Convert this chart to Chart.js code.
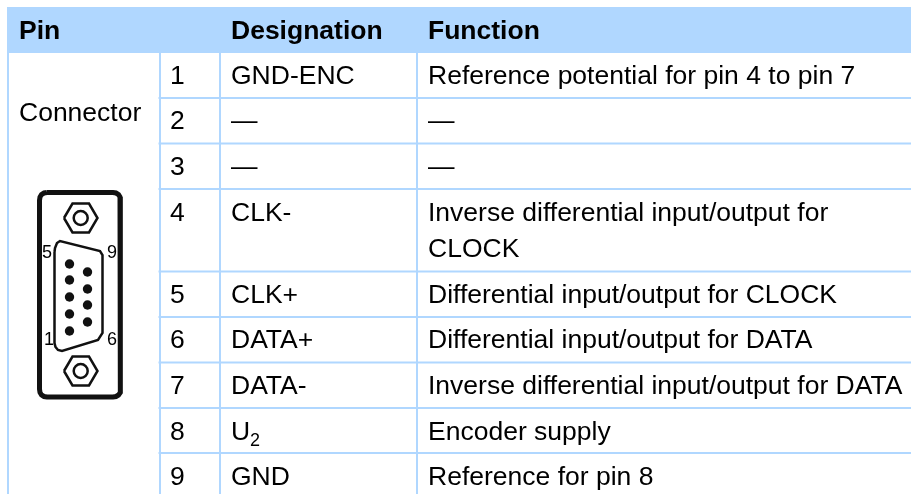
<!DOCTYPE html>
<html>
<head>
<meta charset="utf-8">
<title>Pin table</title>
<script src="https://cdn.jsdelivr.net/npm/chart.js@4/dist/chart.umd.min.js"></script>
<style>
  html, body { margin: 0; padding: 0; background: #fff; }
  canvas { display: block; }
</style>
</head>
<body>
<canvas id="chart-area" width="911" height="494"></canvas>
<script>
// table content
const headers = ['Pin', 'Designation', 'Function']
const pins = ['1', '2', '3', '4', '5', '6', '7', '8', '9']
const designations = ['GND-ENC', '—', '—', 'CLK-', 'CLK+', 'DATA+', 'DATA-', 'U', 'GND']
const functions = [
    'Reference potential for pin 4 to pin 7',
    '—',
    '—',
    'Inverse differential input/output for',
    'Differential input/output for CLOCK',
    'Differential input/output for DATA',
    'Inverse differential input/output for DATA',
    'Encoder supply',
    'Reference for pin 8'
]
const rowBaselines = [83.5, 129, 175, 220.5, 302.5, 348, 394, 439.5, 485]

// table rules, in the same units as the picture
const headerBand = [7, 53]
const rowRules = [98, 143.5, 189, 271.5, 317, 362.5, 408, 453]
const columnRules = [8, 160, 220, 417]

// connector drawing
const shellOutline = [
    [47,192.5],[113,192.5],[116,193],[118.5,194.5],[120,197],[120.5,200.5],
    [120.5,389],[120,392.5],[118.5,395],[116,396.5],[113,397],
    [47,397],[44,396.5],[41.5,395],[40,392.5],[39.5,389],
    [39.5,200.5],[40,197],[41.5,194.5],[44,193],[47,192.5]
]
const plugOutline = [[54.5,252],[55,248],[57,243],[60,241],[100,251],[102.5,255],[102.5,333],[98,340],[62,351],[58,350],[55.5,347],[54.5,343],[54.5,252]]
const topNut = [[64,218],[72.5,203.5],[89,203.5],[97.5,218],[89,232.5],[72.5,232.5],[64,218]]
const bottomNut = [[64,371],[72.5,356.5],[89,356.5],[97.5,371],[89,385.5],[72.5,385.5],[64,371]]
const nutCentres = [[80.7,218],[80.7,371]]
const pinDots = [[69.5,264],[69.5,280],[69.5,297],[69.5,314],[69.5,331],[87.5,272],[87.5,289],[87.5,305],[87.5,322]]
const pinLabels = ['5', '9', '1', '6']
const pinLabelSpots = [[42,258],[107,258],[44,345],[107,345]]

const ruleColor = '#b0d7ff'

function toPoints(list) {
    return list.map(p => ({x: p[0], y: p[1]}))
}

function ruleDataset(points) {
    return {data: points, borderColor: ruleColor, borderWidth: 2, pointRadius: 0, tension: 0, order: 5}
}

function outlineDataset(list, width) {
    return {data: toPoints(list), borderColor: '#111', borderWidth: width, pointRadius: 0, tension: 0, order: 1}
}

let datasets = [
    {
        data: [{x: 7, y: headerBand[1]}, {x: 911, y: headerBand[1]}],
        borderWidth: 0, pointRadius: 0,
        fill: {value: headerBand[0]},
        backgroundColor: ruleColor,
        order: 9
    }
]
rowRules.forEach(y => datasets.push(ruleDataset([{x: 158.5, y: y}, {x: 911, y: y}])))
columnRules.forEach(x => datasets.push(ruleDataset([{x: x, y: headerBand[1]}, {x: x, y: 494}])))

datasets.push(outlineDataset(shellOutline, 5))
datasets.push(outlineDataset(plugOutline, 2.5))
datasets.push(outlineDataset(topNut, 2.5))
datasets.push(outlineDataset(bottomNut, 2.5))
datasets.push({
    data: toPoints(nutCentres), showLine: false, pointRadius: 7,
    pointBackgroundColor: '#fff', pointBorderColor: '#111', pointBorderWidth: 2.5, order: 1
})
datasets.push({
    data: toPoints(pinDots), showLine: false, pointRadius: 4.7,
    pointBackgroundColor: '#111', pointBorderWidth: 0, order: 1
})

// canvas text, placed through the scales
const tableText = {
    id: 'tableText',
    afterDatasetsDraw(chart) {
        const ctx = chart.ctx
        const sx = chart.scales.x
        const sy = chart.scales.y
        const put = (str, x, y, font) => {
            ctx.font = font
            ctx.fillText(str, sx.getPixelForValue(x), sy.getPixelForValue(y))
        }
        const body = '26.5px "Liberation Sans"'
        const bold = 'bold 26.5px "Liberation Sans"'

        ctx.save()
        ctx.fillStyle = '#000'
        ctx.textBaseline = 'alphabetic'
        ctx.textAlign = 'left'

        put(headers[0], 19, 39, bold)
        put(headers[1], 231, 39, bold)
        put(headers[2], 428, 39, bold)
        put('Connector', 19, 121, body)

        pins.forEach((pin, i) => {
            put(pin, 170, rowBaselines[i], body)
            put(designations[i], 231, rowBaselines[i], body)
            put(functions[i], 428, rowBaselines[i], body)
        })
        put('CLOCK', 428, 257, body)
        put('2', 250, rowBaselines[7] + 6, '18px "Liberation Sans"')

        pinLabels.forEach((label, i) => {
            put(label, pinLabelSpots[i][0], pinLabelSpots[i][1], '18px "Liberation Sans"')
        })
        ctx.restore()
    }
}

new Chart(document.getElementById('chart-area').getContext('2d'), {
    type: 'line',
    data: {datasets: datasets},
    plugins: [tableText],
    options: {
        responsive: false,
        animation: false,
        parsing: false,
        layout: {padding: 0, autoPadding: false},
        plugins: {legend: {display: false}, tooltip: {enabled: false}},
        scales: {
            x: {type: 'linear', min: 0, max: 911, display: false},
            y: {type: 'linear', min: 0, max: 494, reverse: true, display: false}
        }
    }
})
</script>
</body>
</html>
